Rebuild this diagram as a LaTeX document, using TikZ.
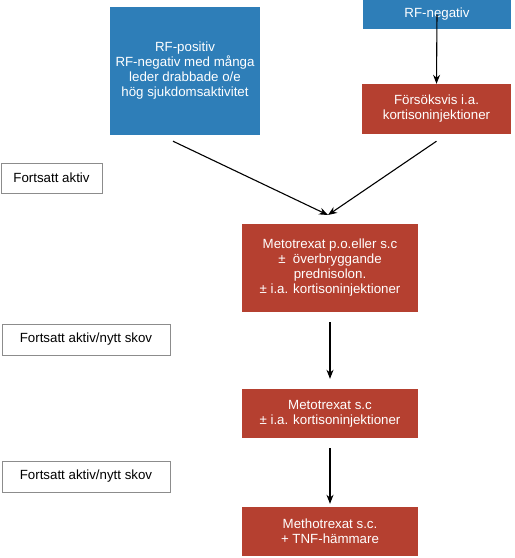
\documentclass[tikz,border=0pt]{standalone}
\usepackage{fontspec}
\setmainfont{Liberation Sans}
\usetikzlibrary{arrows.meta}
\definecolor{rfblue}{RGB}{46,126,184}
\definecolor{mtxred}{RGB}{181,64,48}
\tikzset{bl/.style={fill=rfblue,text=white,align=center,inner sep=0pt,
			font=\fontsize{13.3}{15}\selectfont},
		rd/.style={fill=mtxred,text=white,align=center,inner sep=0pt,
			minimum width=176,font=\fontsize{13.3}{15}\selectfont},
		gr/.style={draw=black!45,line width=1pt,inner sep=0pt,
			font=\fontsize{13.3}{15}\selectfont},
		pil/.style={-{Stealth[length=9pt,width=7pt]},line width=1.1pt}}

\begin{document}
\begin{tikzpicture}[x=1pt,y=-1pt]
				\useasboundingbox (0,0) rectangle (515,558);
				% blue boxes on top
				\node[bl,minimum width=150,minimum height=128] (pos) at (185,71)
					{RF-positiv\\RF-negativ med många\\leder drabbade o/e\\hög sjukdomsaktivitet};
				\node[bl,minimum width=148,minimum height=29] (neg) at (437,14.5) {RF-negativ};
				\node[rd,minimum width=149,minimum height=50] (forsok) at (436.5,109)
					{Försöksvis i.a.\\kortisoninjektioner};
				% red chain
				\node[rd,minimum height=88] (mtx1) at (330,268)
					{Metotrexat p.o.eller s.c\\±\ \ överbryggande\\prednisolon.\\± i.a. kortisoninjektioner};
				\node[rd,minimum height=49] (mtx2) at (330,413.5)
					{Metotrexat s.c\\± i.a. kortisoninjektioner};
				\node[rd,minimum height=49] (mtx3) at (330,531.5)
					{Methotrexat s.c.\\+ TNF-hämmare};
				% grey boxes on the left
				\node[gr,minimum width=101,minimum height=30] (fa1) at (51.5,178) {Fortsatt aktiv};
				\node[gr,minimum width=168,minimum height=31] (fa2) at (86,339.5) {Fortsatt aktiv/nytt skov};
				\node[gr,minimum width=168,minimum height=31] (fa3) at (86,476.5) {Fortsatt aktiv/nytt skov};
				% arrows
				\coordinate (meet) at (328,215);
				\draw[pil] (neg.center) -- (forsok.north);
				\draw[pil] ([xshift=-12pt,yshift=-6pt]pos.south) -- (meet);
				\draw[pil] ([yshift=-7pt]forsok.south) -- (meet);
				\draw[pil,shorten <=10pt,shorten >=10pt] (mtx1) -- (mtx2);
				\draw[pil,shorten <=10pt,shorten >=3pt] (mtx2) -- (mtx3);
			\end{tikzpicture}
\end{document}
